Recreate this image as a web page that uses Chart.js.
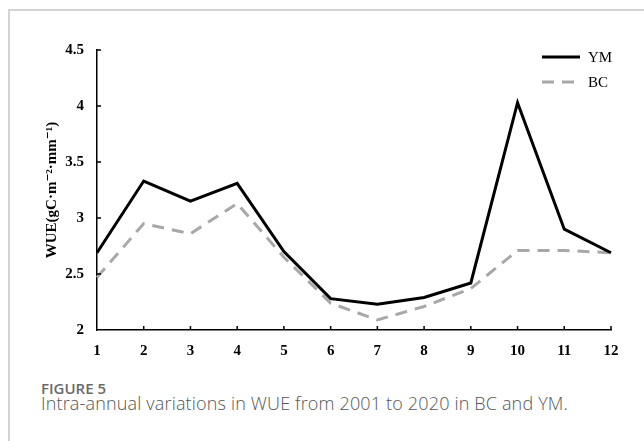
<!DOCTYPE html>
<html>
<head>
<meta charset="utf-8">
<script src="https://cdn.jsdelivr.net/npm/chart.js@4/dist/chart.umd.min.js"></script>
<style>
  html, body { margin: 0; padding: 0; background: #fff; width: 644px; height: 441px; overflow: hidden; }
  #frame { position: absolute; left: 8px; top: 9px; width: 700px; height: 500px;
           border-top: 2px solid #d3d3d3; border-left: 2px solid #d3d3d3; }
  #wrap { position: absolute; left: 0; top: 0; width: 644px; height: 370px; }
  .fig { position: absolute; left: 41px; top: 381px; font-family: "Open Sans", "Noto Sans", sans-serif;
         font-size: 15px; line-height: 15px; font-weight: 600; color: #6a6a6a; white-space: nowrap; }
  .cap { position: absolute; left: 41px; top: 394px; font-family: "Open Sans", "Noto Sans", sans-serif;
         font-size: 18px; line-height: 18px; font-weight: 300; color: #555; white-space: nowrap; }
</style>
</head>
<body>
<div id="frame"></div>
<div id="wrap"><canvas id="c" width="644" height="370"></canvas></div>
<div class="fig">FIGURE 5</div>
<div class="cap" id="cap">Intra-annual variations in WUE from 2001 to 2020 in BC and YM.</div>
<script>
const months = ['1', '2', '3', '4', '5', '6', '7', '8', '9', '10', '11', '12'];
const ymValues = [2.69, 3.33, 3.15, 3.31, 2.70, 2.28, 2.23, 2.29, 2.42, 4.03, 2.90, 2.69];
const bcValues = [2.47, 2.95, 2.86, 3.13, 2.65, 2.24, 2.09, 2.21, 2.37, 2.71, 2.71, 2.69];
const yTicks = [2, 2.5, 3, 3.5, 4, 4.5];
const yTitle = 'WUE(gC\u00B7m\u207B\u00B2\u00B7mm\u207B\u00B9)';

const serif = "'Liberation Serif', 'Times New Roman', 'DejaVu Serif', serif";

// fit caption width to the reference line length
(function () {
  const cap = document.getElementById('cap');
  const target = 527;
  const w = cap.getBoundingClientRect().width;
  const n = cap.textContent.length;
  cap.style.letterSpacing = ((target - w) / n).toFixed(3) + 'px';
})();

const innerTicks = {
  id: 'innerTicks',
  afterDraw(chart) {
    const ctx = chart.ctx;
    const xs = chart.scales.x, ys = chart.scales.y;
    const area = chart.chartArea;
    ctx.save();
    ctx.strokeStyle = '#000';
    ctx.lineWidth = 1.5;
    ctx.beginPath();
    xs.ticks.forEach((t, i) => {
      if (i === 0) return;
      const x = xs.getPixelForTick(i);
      ctx.moveTo(x, area.bottom);
      ctx.lineTo(x, area.bottom - 4);
    });
    ys.ticks.forEach((t, i) => {
      if (i === 0) return;
      const y = ys.getPixelForTick(i);
      ctx.moveTo(area.left, y);
      ctx.lineTo(area.left + 4, y);
    });
    ctx.stroke();
    ctx.restore();
  }
};

const customLegend = {
  id: 'customLegend',
  afterDraw(chart) {
    const ctx = chart.ctx;
    const area = chart.chartArea;
    const x0 = area.right - 69;
    const rows = [area.top + 7, area.top + 32];
    ctx.save();
    chart.data.datasets.forEach((ds, i) => {
      const y = rows[i];
      ctx.beginPath();
      ctx.strokeStyle = ds.borderColor;
      ctx.lineWidth = ds.borderWidth;
      ctx.setLineDash(ds.borderDash || []);
      ctx.moveTo(x0, y);
      ctx.lineTo(x0 + 38, y);
      ctx.stroke();
      ctx.setLineDash([]);
      ctx.fillStyle = '#000';
      ctx.font = '15px ' + serif;
      ctx.textBaseline = 'middle';
      ctx.textAlign = 'left';
      ctx.fillText(ds.label, x0 + 46, y + 1);
    });
    ctx.restore();
  }
};

new Chart(document.getElementById('c'), {
  type: 'line',
  data: {
    labels: months,
    datasets: [
      { label: 'YM', data: ymValues, borderColor: '#000000', borderWidth: 3,
        pointRadius: 0, tension: 0, fill: false, borderJoinStyle: 'miter' },
      { label: 'BC', data: bcValues, borderColor: '#a8a8a8', borderWidth: 3, borderDash: [12, 8],
        pointRadius: 0, tension: 0, fill: false, borderJoinStyle: 'miter' }
    ]
  },
  options: {
    responsive: false,
    animation: false,
    devicePixelRatio: 1,
    layout: { padding: { left: 43, right: 33, top: 50, bottom: 0 } },
    plugins: { legend: { display: false }, tooltip: { enabled: false }, title: { display: false } },
    scales: {
      x: {
        type: 'category',
        offset: false,
        grid: { display: false, drawTicks: false },
        border: { display: true, color: '#000', width: 1.5 },
        ticks: { color: '#000', font: { family: serif, size: 15, weight: 'bold' }, padding: 12, maxRotation: 0, autoSkip: false },
        afterFit(s) { s.height = 40; }
      },
      y: {
        type: 'linear',
        min: 2, max: 4.5,
        grid: { display: false, drawTicks: false },
        border: { display: true, color: '#000', width: 1.5 },
        afterBuildTicks(s) { s.ticks = yTicks.map(v => ({ value: v })); },
        ticks: { color: '#000', font: { family: serif, size: 15, weight: 'bold' }, padding: 13,
                 callback: (v) => String(v) },
        title: { display: true, text: yTitle, color: '#000', font: { family: serif, size: 15, weight: 'bold' }, padding: 0 },
        afterFit(s) { s.width = 54; }
      }
    }
  },
  plugins: [innerTicks, customLegend]
});
</script>
</body>
</html>
